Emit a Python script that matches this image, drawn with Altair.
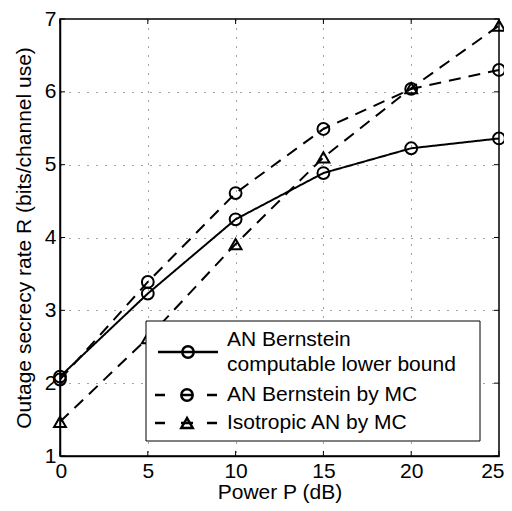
import altair as alt
import pandas as pd

power = [0, 5, 10, 15, 20, 25]
lower_bound = [2.09, 3.23, 4.25, 4.885, 5.225, 5.36]
bern_mc = [2.05, 3.39, 4.61, 5.49, 6.04, 6.30]
iso_mc = [1.47, 2.62, 3.91, 5.10, 6.05, 6.91]

names = ["AN Bernstein computable lower bound", "AN Bernstein by MC", "Isotropic AN by MC"]
series_vals = [lower_bound, bern_mc, iso_mc]
shapes = ["circle", "circle", "triangle-up"]
dashes = [[1, 0], [12, 8], [12, 8]]

rows = []
for n, vals, sh in zip(names, series_vals, shapes):
    for p, v in zip(power, vals):
        rows.append({"P": p, "R": v, "series": n, "shape": sh})
df = pd.DataFrame(rows)

W, H = 439, 437
FONT = "Liberation Sans"

xs = alt.Scale(domain=[0, 25], nice=False)
ys = alt.Scale(domain=[1, 7], nice=False)

base = alt.Chart(df)

lines = base.mark_line(strokeWidth=2, color="black").encode(
    x=alt.X("P:Q", scale=xs,
            axis=alt.Axis(values=power, title="Power P (dB)", grid=True, format="d")),
    y=alt.Y("R:Q", scale=ys,
            axis=alt.Axis(values=[1, 2, 3, 4, 5, 6, 7], format="d",
                          title="Outage secrecy rate R (bits/channel use)", grid=True)),
    strokeDash=alt.StrokeDash("series:N", scale=alt.Scale(domain=names, range=dashes), legend=None),
    detail="series:N",
)

points = base.mark_point(filled=False, strokeWidth=2, color="black", size=140, opacity=1).encode(
    x=alt.X("P:Q", scale=xs),
    y=alt.Y("R:Q", scale=ys),
    shape=alt.Shape("series:N", scale=alt.Scale(domain=names, range=shapes), legend=None),
)

# inward tick marks
tick_df = pd.DataFrame({"P": power})
ytick_df = pd.DataFrame({"R": [1, 2, 3, 4, 5, 6, 7]})
tb = alt.Chart(tick_df).mark_rule(color="black", strokeWidth=1).encode(
    x=alt.X("P:Q", scale=xs), y=alt.value(H), y2=alt.value(H - 5))
tt = alt.Chart(tick_df).mark_rule(color="black", strokeWidth=1).encode(
    x=alt.X("P:Q", scale=xs), y=alt.value(0), y2=alt.value(5))
tl = alt.Chart(ytick_df).mark_rule(color="black", strokeWidth=1).encode(
    y=alt.Y("R:Q", scale=ys), x=alt.value(0), x2=alt.value(5))
tr = alt.Chart(ytick_df).mark_rule(color="black", strokeWidth=1).encode(
    y=alt.Y("R:Q", scale=ys), x=alt.value(W), x2=alt.value(W - 5))

# legend
box = alt.Chart(pd.DataFrame({"a": [0]})).mark_rect(fill="white", stroke="black", strokeWidth=1).encode(
    x=alt.value(86), x2=alt.value(420), y=alt.value(302), y2=alt.value(422))

leg_line = pd.DataFrame({"x1": [98, 95, 121, 147, 95, 121, 147], "x2": [158, 105, 133, 157, 105, 133, 157],
                         "y": [333, 376, 376, 376, 404, 404, 404]})
leg_lines = alt.Chart(leg_line).mark_rule(color="black", strokeWidth=2.5).encode(
    x=alt.X("x1:Q", scale=None), x2="x2:Q", y=alt.Y("y:Q", scale=None))

leg_mark = pd.DataFrame({"x": [128, 127, 127], "y": [333, 376, 404], "series": names})
leg_marks = alt.Chart(leg_mark).mark_point(filled=False, strokeWidth=2.5, color="black", size=130, opacity=1).encode(
    x=alt.X("x:Q", scale=None), y=alt.Y("y:Q", scale=None),
    shape=alt.Shape("series:N", scale=alt.Scale(domain=names, range=shapes), legend=None))

leg_text_df = pd.DataFrame({"x": [167, 167, 167, 167], "y": [321, 346, 376, 404],
                            "t": ["AN Bernstein", "computable lower bound", "AN Bernstein by MC", "Isotropic AN by MC"]})
leg_text = alt.Chart(leg_text_df).mark_text(align="left", baseline="middle", font=FONT, fontSize=21, color="black").encode(
    x=alt.X("x:Q", scale=None), y=alt.Y("y:Q", scale=None), text="t:N")

chart = alt.layer(lines, points, tb, tt, tl, tr, box, leg_lines, leg_marks, leg_text).properties(
    width=W, height=H,
    autosize=alt.AutoSizeParams(type="none"),
    padding={"left": 52, "top": 11, "right": 5, "bottom": 47},
).configure_view(
    stroke="black", strokeWidth=1.5
).configure_axis(
    domainColor="black", domainWidth=1.5,
    ticks=False,
    labelFont=FONT, labelFontSize=21, labelColor="black", labelPadding=4,
    titleFont=FONT, titleFontSize=21, titleColor="black", titleFontWeight="normal",
    gridColor="#444", gridDash=[1, 8], gridWidth=1, gridOpacity=1,
).configure_axisX(
    titlePadding=0, labelFlush=True, labelFlushOffset=5
).configure_axisY(
    titlePadding=10, labelFlush=False
)

chart.save("out.html", embed_options={"renderer": "svg", "actions": False})
